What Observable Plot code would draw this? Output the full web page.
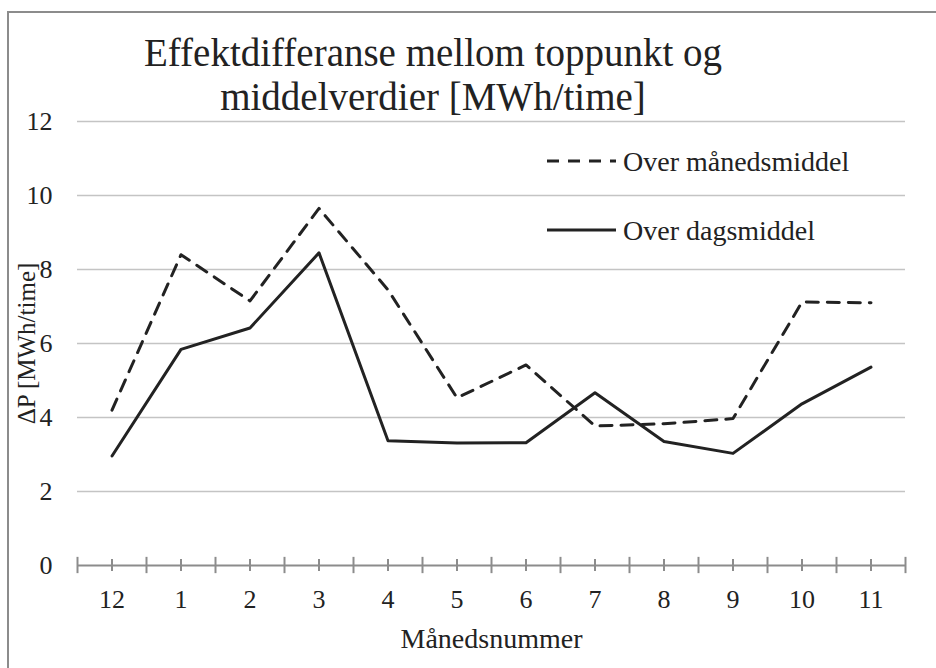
<!DOCTYPE html>
<html>
<head>
<meta charset="utf-8">
<script src="https://cdn.jsdelivr.net/npm/d3@7"></script>
<script src="https://cdn.jsdelivr.net/npm/@observablehq/plot@0.6"></script>
<style>
  html, body { margin: 0; padding: 0; background: #fff; overflow: hidden; }
  #wrap { position: relative; width: 936px; height: 668px; overflow: hidden; }
  #wrap > svg { position: absolute; left: 0; top: 0; }
  #overlay { position: absolute; left: 0; top: 0; pointer-events: none; }
  #overlay text { font-family: "Liberation Serif", serif; fill: #222; }
</style>
</head>
<body>
<div id="wrap"></div>
<script>
// ---- data ----
const months = ["12", "1", "2", "3", "4", "5", "6", "7", "8", "9", "10", "11"];
const overManedsmiddel = [4.2, 8.4, 7.15, 9.65, 7.45, 4.53, 5.42, 3.77, 3.83, 3.97, 7.12, 7.1];
const overDagsmiddel = [2.96, 5.84, 6.42, 8.45, 3.37, 3.31, 3.32, 4.67, 3.35, 3.03, 4.37, 5.36];
const yTicks = [0, 2, 4, 6, 8, 10, 12];
const seriesNames = ["Over månedsmiddel", "Over dagsmiddel"];
const titleLines = ["Effektdifferanse mellom toppunkt og", "middelverdier [MWh/time]"];
const xLabel = "Månedsnummer";
const yLabel = "ΔP [MWh/time]";

const pos = months.map((m, i) => i + 0.5);
const boundaries = d3.range(months.length + 1);
const rowsA = months.map((m, i) => ({pos: pos[i], month: m, value: overManedsmiddel[i]}));
const rowsB = months.map((m, i) => ({pos: pos[i], month: m, value: overDagsmiddel[i]}));

const axisGray = "#8c8c8c";
const ink = "#222";

const chart = Plot.plot({
  width: 936,
  height: 668,
  marginLeft: 77,
  marginRight: 31,
  marginTop: 121,
  marginBottom: 103,
  style: {fontFamily: "Liberation Serif, serif", fontSize: "26px", color: ink, background: "transparent"},
  x: {type: "linear", domain: [0, months.length]},
  y: {domain: [0, 12]},
  marks: [
    Plot.gridY(yTicks.filter(d => d > 0), {stroke: "#c4c4c4", strokeOpacity: 1, strokeWidth: 1.6}),
    Plot.axisY({ticks: yTicks, tickSize: 0, tickPadding: 25, tickFormat: d => String(d), fontSize: 26, label: null}),
    Plot.axisY({ticks: [], tickSize: 0, label: yLabel, labelAnchor: "center", labelArrow: "none",
      labelOffset: 60, fontSize: 25}),
    Plot.axisX({ticks: pos, tickSize: 0, tickPadding: 24, tickFormat: (d) => months[Math.round(d - 0.5)], fontSize: 26, label: null}),
    Plot.axisX({ticks: [], tickSize: 0, label: xLabel, labelAnchor: "center", labelArrow: "none",
      labelOffset: 82, fontSize: 28}),
    Plot.ruleY([0], {stroke: axisGray, strokeWidth: 2}),
    Plot.ruleX(boundaries, {y1: -0.22, y2: 0.22, stroke: axisGray, strokeWidth: 2}),
    Plot.ruleX(pos, {y1: -0.16, y2: 0.16, stroke: axisGray, strokeWidth: 2}),
    Plot.line(rowsA, {x: "pos", y: "value", stroke: ink, strokeWidth: 3, strokeDasharray: "12,9", strokeLinejoin: "round"}),
    Plot.line(rowsB, {x: "pos", y: "value", stroke: ink, strokeWidth: 3, strokeLinejoin: "round"})
  ]
});

const wrap = document.getElementById("wrap");
wrap.appendChild(chart);

// overlay: frame, title, legend
const ov = d3.select(wrap).append("svg").attr("id", "overlay").attr("width", 936).attr("height", 668);
ov.append("rect").attr("x", 8).attr("y", 12).attr("width", 960).attr("height", 700)
  .attr("fill", "none").attr("stroke", axisGray).attr("stroke-width", 2);

const title = ov.append("text").attr("text-anchor", "middle").attr("font-size", 39);
title.append("tspan").attr("x", 433).attr("y", 66).text(titleLines[0]);
title.append("tspan").attr("x", 433).attr("y", 110).text(titleLines[1]);

const legendY = [161, 230];
const dashes = ["12,9", null];
seriesNames.forEach((name, i) => {
  const l = ov.append("line").attr("x1", 547).attr("x2", 616).attr("y1", legendY[i]).attr("y2", legendY[i])
    .attr("stroke", ink).attr("stroke-width", 3);
  if (dashes[i]) l.attr("stroke-dasharray", dashes[i]);
  ov.append("text").attr("x", 623).attr("y", legendY[i]).attr("dy", "0.35em")
    .attr("font-size", 28).text(name);
});
</script>
</body>
</html>
